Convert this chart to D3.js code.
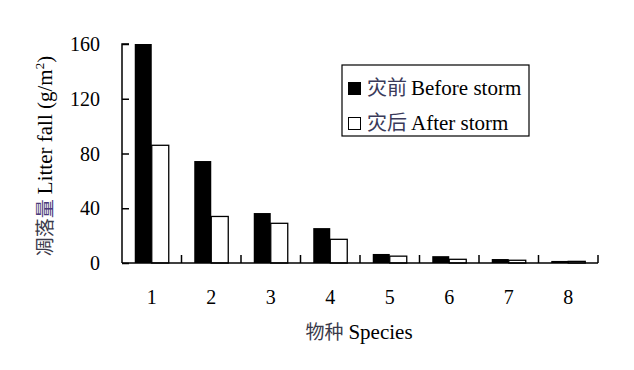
<!DOCTYPE html>
<html><head><meta charset="utf-8">
<script src="https://cdn.jsdelivr.net/npm/d3@7/dist/d3.min.js"></script>
<style>body{margin:0;background:#fff}svg{display:block}</style>
</head><body>
<svg id="c" width="634" height="370"></svg>
<script>
const categories = ["1","2","3","4","5","6","7","8"];
const beforeStorm = [160, 74.5, 36.5, 25.5, 6.6, 5, 2.9, 1.5];
const afterStorm = [86, 34, 29, 17.3, 5, 2.7, 2, 1.2];
const yTicks = [0, 40, 80, 120, 160];
const seriesNames = ["灾前 Before storm", "灾后 After storm"];

const svg = d3.select("#c");
const L = 122, R = 598, T = 44, B = 263;
const serif = "Liberation Serif, Times New Roman, serif";
const cjk = "Noto Sans CJK SC, sans-serif";
const FS = 20;

const x = d3.scaleBand().domain(categories).range([L, R]).paddingInner(0).paddingOuter(0);
const inner = d3.scaleBand().domain([0,1]).range([0, x.bandwidth()]).paddingInner(0).paddingOuter(0.75);
const y = d3.scaleLinear().domain([0,160]).range([B, T]);

// bars
const g = svg.append("g");
categories.forEach((c,i)=>{
  [beforeStorm[i], afterStorm[i]].forEach((v,j)=>{
    g.append("rect")
      .attr("x", x(c)+inner(j)).attr("y", y(v))
      .attr("width", inner.bandwidth()).attr("height", B - y(v))
      .attr("fill", j===0 ? "#000" : "#fff")
      .attr("stroke", "#000").attr("stroke-width", j===0?0:1.3);
  });
});

// y axis
const ya = svg.append("g").attr("transform", `translate(${L},0)`)
  .call(d3.axisRight(y).tickValues(yTicks).tickSize(7).tickFormat(""));
ya.select(".domain").attr("stroke","#000").attr("stroke-width",1.5).attr("d", `M7,${T}H0V${B}`);
ya.selectAll(".tick line").attr("stroke","#000").attr("stroke-width",1.5);
yTicks.forEach(t=>{
  svg.append("text").attr("x", 100).attr("y", y(t)+7).attr("text-anchor","end")
    .style("font-family", serif).style("font-size", FS+"px").text(t);
});

// x axis
const xa = svg.append("g").attr("transform", `translate(0,${B})`);
xa.append("line").attr("x1", L).attr("x2", R).attr("y1",0).attr("y2",0).attr("stroke","#000").attr("stroke-width",1.5);
categories.forEach((c,i)=>{
  const bx = x(c) + x.bandwidth();
  xa.append("line").attr("x1", bx).attr("x2", bx).attr("y1", 0).attr("y2", -8).attr("stroke","#000").attr("stroke-width",1.5);
  svg.append("text").attr("x", x(c)+inner(0)+inner.bandwidth()).attr("y", 304).attr("text-anchor","middle")
    .style("font-family", serif).style("font-size", FS+"px").text(c);
});

// x title
const xt = svg.append("text").attr("x", 359).attr("y", 339).attr("text-anchor","middle").style("font-size", "21px");
xt.append("tspan").style("font-family", cjk).attr("fill","#3a3a4a").style("font-size","19px").text("物种");
xt.append("tspan").style("font-family", serif).attr("dx", 5).text("Species");

// y title
const yt = svg.append("text").attr("transform", `translate(52,${156}) rotate(-90)`).attr("text-anchor","middle").style("font-size", "21px");
yt.append("tspan").style("font-family", cjk).attr("fill","#3a3a4a").style("font-size","19px").text("凋落");
yt.append("tspan").style("font-family", cjk).attr("fill","#4a3a7a").style("font-size","19px").text("量");
yt.append("tspan").style("font-family", serif).attr("dx", 5).text("Litter fall (g/m");
yt.append("tspan").style("font-family", serif).style("font-size", "13px").attr("dy", -8).text("2");
yt.append("tspan").style("font-family", serif).attr("dy", 8).text(")");

// legend
svg.append("rect").attr("x", 342).attr("y", 65).attr("width", 187).attr("height", 71)
  .attr("fill","#fff").attr("stroke","#000").attr("stroke-width",1.2);
seriesNames.forEach((n,i)=>{
  const ly = 82 + i*35;
  svg.append("rect").attr("x", 348.5).attr("y", ly+0.5).attr("width", 12).attr("height", 12)
    .attr("fill", i===0?"#000":"#fff").attr("stroke","#000").attr("stroke-width",1);
  const [zh, ...en] = n.split(" ");
  const t = svg.append("text").attr("x", 367).attr("y", ly+13).style("font-size", "21px");
  t.append("tspan").style("font-family", cjk).attr("fill","#3a3a5a").style("font-size","20px").text(zh);
  t.append("tspan").style("font-family", serif).attr("dx", 4).text(en.join(" "));
});
</script>
</body></html>
